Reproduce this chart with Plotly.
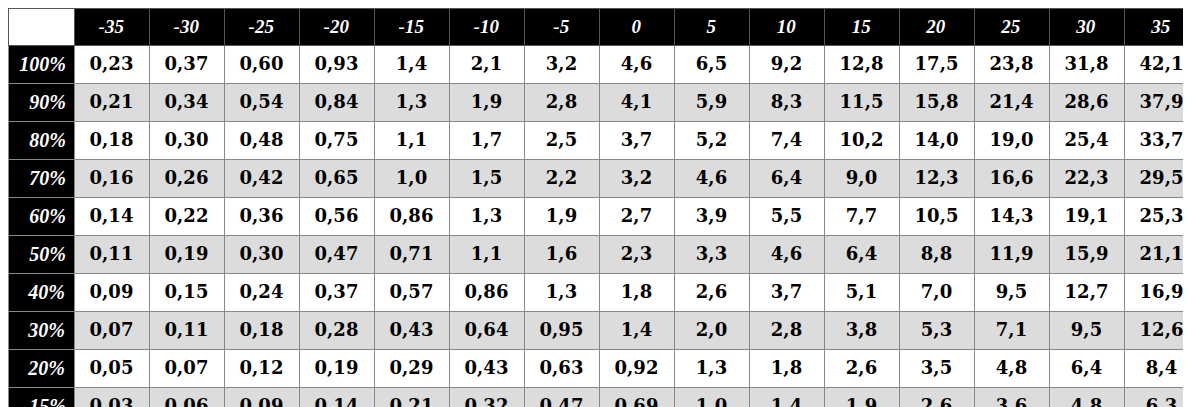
import plotly.graph_objects as go

temps = ["-35","-30","-25","-20","-15","-10","-5","0","5","10","15","20","25","30","35"]
humid = ["100%","90%","80%","70%","60%","50%","40%","30%","20%","15%","10%","5%","1%"]
rows = [
["0,23","0,37","0,60","0,93","1,4","2,1","3,2","4,6","6,5","9,2","12,8","17,5","23,8","31,8","42,1"],
["0,21","0,34","0,54","0,84","1,3","1,9","2,8","4,1","5,9","8,3","11,5","15,8","21,4","28,6","37,9"],
["0,18","0,30","0,48","0,75","1,1","1,7","2,5","3,7","5,2","7,4","10,2","14,0","19,0","25,4","33,7"],
["0,16","0,26","0,42","0,65","1,0","1,5","2,2","3,2","4,6","6,4","9,0","12,3","16,6","22,3","29,5"],
["0,14","0,22","0,36","0,56","0,86","1,3","1,9","2,7","3,9","5,5","7,7","10,5","14,3","19,1","25,3"],
["0,11","0,19","0,30","0,47","0,71","1,1","1,6","2,3","3,3","4,6","6,4","8,8","11,9","15,9","21,1"],
["0,09","0,15","0,24","0,37","0,57","0,86","1,3","1,8","2,6","3,7","5,1","7,0","9,5","12,7","16,9"],
["0,07","0,11","0,18","0,28","0,43","0,64","0,95","1,4","2,0","2,8","3,8","5,3","7,1","9,5","12,6"],
["0,05","0,07","0,12","0,19","0,29","0,43","0,63","0,92","1,3","1,8","2,6","3,5","4,8","6,4","8,4"],
["0,03","0,06","0,09","0,14","0,21","0,32","0,47","0,69","1,0","1,4","1,9","2,6","3,6","4,8","6,3"],
["0,02","0,04","0,06","0,09","0,14","0,21","0,32","0,46","0,65","0,92","1,3","1,8","2,4","3,2","4,2"],
["0,01","0,02","0,03","0,05","0,07","0,11","0,16","0,23","0,33","0,46","0,64","0,88","1,2","1,6","2,1"],
["0,00","0,00","0,01","0,01","0,01","0,02","0,03","0,05","0,07","0,09","0,13","0,18","0,24","0,32","0,42"],
]

cols = [[f"<b><i>{h}</i></b>" for h in humid]] + [[f"<b>{r[j]}</b>" for r in rows] for j in range(len(temps))]
stripe = ["white" if i % 2 == 0 else "#dcdcdc" for i in range(len(humid))]
fills = [["black"] * len(humid)] + [stripe] * len(temps)

fig = go.Figure(go.Table(
    columnwidth=[66] + [75] * len(temps),
    header=dict(
        values=[""] + [f"<b><i>{t}</i></b>" for t in temps],
        fill_color=["white"] + ["black"] * len(temps),
        font=dict(family="Liberation Serif", size=19, color="white"),
        align="center", height=28,
        line=dict(color="#555", width=1),
    ),
    cells=dict(
        values=cols,
        fill_color=fills,
        font=dict(family=["Liberation Serif"] + ["DejaVu Serif"] * len(temps),
                  size=[20] + [18] * len(temps),
                  color=["white"] + ["black"] * len(temps)),
        align=["right"] + ["center"] * len(temps),
        height=27,
        line=dict(color="#888", width=1),
    ),
))
fig.update_layout(width=1191, height=407, margin=dict(l=0, r=0, t=0, b=0),
                  paper_bgcolor="white")
fig.write_html("out.html")
